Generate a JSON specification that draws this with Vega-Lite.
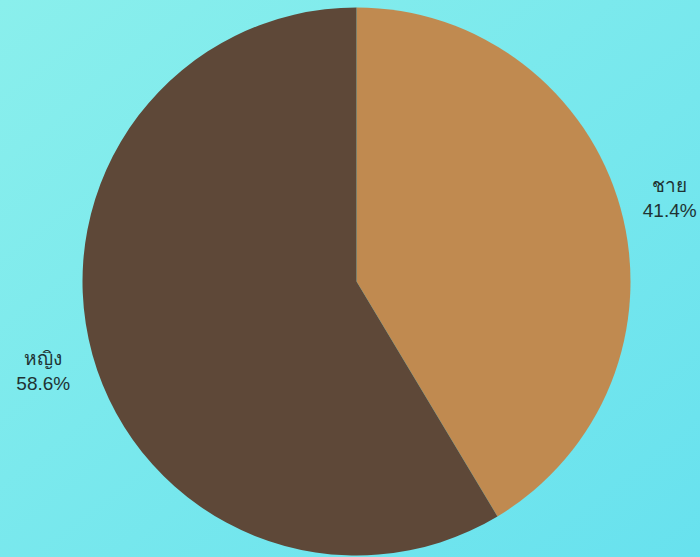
{
  "$schema": "https://vega.github.io/schema/vega-lite/v6.json",
  "width": 713,
  "height": 563,
  "padding": 0,
  "autosize": {"type": "pad"},
  "background": "#7BE8ED",
  "config": {"view": {"stroke": null}},
  "layer": [
    {
      "data": {"values": [{"bg": 1}]},
      "mark": {
        "type": "rect",
        "fill": {
          "gradient": "linear",
          "x1": 0, "y1": 0, "x2": 1, "y2": 1,
          "stops": [
            {"offset": 0, "color": "#8AEFEC"},
            {"offset": 1, "color": "#67E1EE"}
          ]
        }
      },
      "encoding": {}
    },
    {
      "data": {
        "values": [
          {"sex": "ชาย", "pct": 41.4, "label": "ชาย\n41.4%", "order": 1},
          {"sex": "หญิง", "pct": 58.6, "label": "หญิง\n58.6%", "order": 2}
        ]
      },
      "encoding": {
        "theta": {"field": "pct", "type": "quantitative", "stack": true},
        "order": {"field": "order", "type": "quantitative"}
      },
      "layer": [
        {
          "mark": {"type": "arc", "outerRadius": 274},
          "encoding": {
            "color": {
              "field": "sex",
              "type": "nominal",
              "scale": {"domain": ["ชาย", "หญิง"], "range": ["#C08A50", "#5E4838"]},
              "legend": null
            }
          }
        },
        {
          "mark": {
            "type": "text",
            "radius": 325,
            "dy": -9,
            "lineBreak": "\n",
            "lineHeight": 25,
            "fontSize": 19,
            "font": "Liberation Sans",
            "fill": "#1F3333",
            "align": "center",
            "baseline": "middle"
          },
          "encoding": {
            "text": {"field": "label", "type": "nominal"}
          }
        }
      ]
    }
  ]
}
